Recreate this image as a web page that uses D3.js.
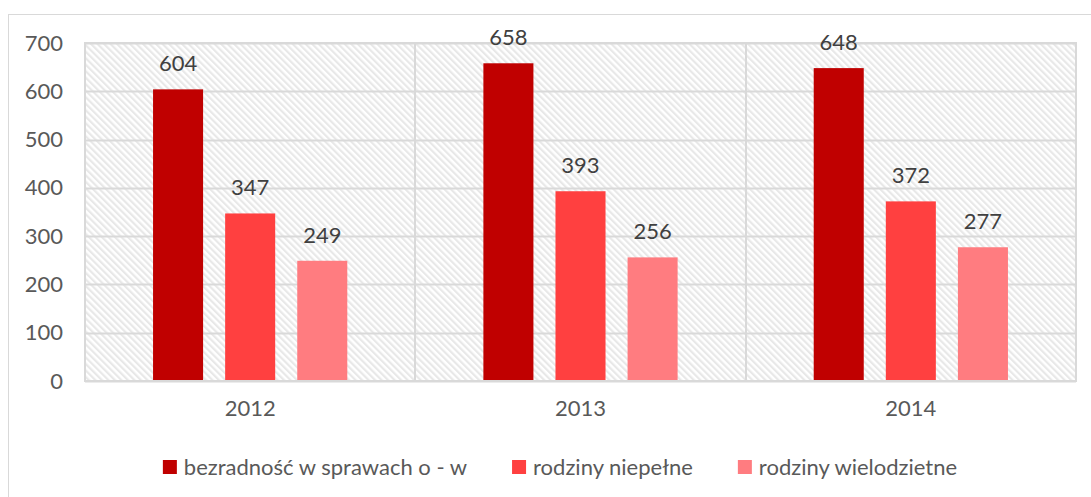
<!DOCTYPE html>
<html>
<head>
<meta charset="utf-8">
<script src="https://cdn.jsdelivr.net/npm/d3@7"></script>
<style>
  body { margin: 0; background: #fff; }
  text { font-family: Lato, "Open Sans", sans-serif; fill: #595959; }
</style>
</head>
<body>
<svg id="chart" width="1091" height="497"></svg>
<script>
const years = ["2012", "2013", "2014"];
const series = ["bezradność w sprawach o - w", "rodziny niepełne", "rodziny wielodzietne"];
const bezradnosc = [604, 658, 648];
const niepelne = [347, 393, 372];
const wielodzietne = [249, 256, 277];
const yTicks = [0, 100, 200, 300, 400, 500, 600, 700];
const colors = ["#c00000", "#ff4040", "#ff7c80"];

const values = [bezradnosc, niepelne, wielodzietne];
const svg = d3.select("#chart");
const FONT = "Lato, 'Open Sans', sans-serif";
const FS = "22px";

const plot = { left: 85, right: 1076, top: 43, bottom: 381 };

// hatched background
const defs = svg.append("defs");
defs.append("pattern")
  .attr("id", "hatch")
  .attr("patternUnits", "userSpaceOnUse")
  .attr("width", 4.6).attr("height", 4.6)
  .attr("patternTransform", "rotate(-45)")
  .append("rect")
  .attr("x", 0).attr("y", 0).attr("width", 2.2).attr("height", 4.6)
  .attr("fill", "#e8e8e8");

// outer chart border
svg.append("rect")
  .attr("x", 8.5).attr("y", 14.5)
  .attr("width", 1100).attr("height", 500)
  .attr("fill", "none").attr("stroke", "#d9d9d9");

svg.append("rect")
  .attr("x", plot.left).attr("y", plot.top)
  .attr("width", plot.right - plot.left).attr("height", plot.bottom - plot.top)
  .attr("fill", "url(#hatch)");

const x0 = d3.scaleBand().domain(years).range([plot.left, plot.right]).padding(0);
const bw = x0.bandwidth();
const x1 = d3.scaleBand().domain(series)
  .range([bw * 0.206, bw * 0.794]).paddingInner(0.306);
const y = d3.scaleLinear().domain([0, 700]).range([plot.bottom, plot.top]);

// gridlines
svg.append("g").selectAll("line").data(yTicks).join("line")
  .attr("x1", plot.left).attr("x2", plot.right)
  .attr("y1", d => Math.round(y(d)) + 0.5).attr("y2", d => Math.round(y(d)) + 0.5)
  .attr("stroke", "#d9d9d9").attr("stroke-width", 2);

// category separators
svg.append("g").selectAll("line").data(years.concat(["end"])).join("line")
  .attr("x1", (d, i) => i < years.length ? Math.round(x0(d)) : plot.right)
  .attr("x2", (d, i) => i < years.length ? Math.round(x0(d)) : plot.right)
  .attr("y1", plot.top).attr("y2", plot.bottom)
  .attr("stroke", "#d9d9d9").attr("stroke-width", 2);

// y tick labels
const yAxis = svg.append("g")
  .attr("transform", `translate(${plot.left},0)`)
  .call(d3.axisLeft(y).tickValues(yTicks).tickSize(0).tickPadding(22));
yAxis.select(".domain").remove();
yAxis.selectAll("text")
  .style("font-family", FONT)
  .style("font-size", FS).attr("fill", "#595959");

// x labels
const xAxis = svg.append("g")
  .attr("transform", `translate(0,${plot.bottom})`)
  .call(d3.axisBottom(x0).tickSize(0).tickPadding(19));
xAxis.select(".domain").remove();
xAxis.selectAll("text")
  .style("font-family", FONT)
  .style("font-size", FS).attr("fill", "#595959");

// bars
const groups = svg.append("g").selectAll("g").data(years).join("g")
  .attr("transform", d => `translate(${x0(d)},0)`);

groups.each(function (yr, yi) {
  const g = d3.select(this);
  series.forEach((s, si) => {
    const v = values[si][yi];
    g.append("rect")
      .attr("x", x1(s)).attr("y", y(v))
      .attr("width", x1.bandwidth()).attr("height", y(0) - y(v))
      .attr("fill", colors[si]);
  });
});

// plot border
svg.append("rect")
  .attr("x", plot.left).attr("y", plot.top)
  .attr("width", plot.right - plot.left).attr("height", plot.bottom - plot.top)
  .attr("fill", "none").attr("stroke", "#d9d9d9").attr("stroke-width", 2);

// data labels, drawn above the border
const labels = svg.append("g").selectAll("g").data(years).join("g")
  .attr("transform", d => `translate(${x0(d)},0)`);

labels.each(function (yr, yi) {
  const g = d3.select(this);
  series.forEach((s, si) => {
    const v = values[si][yi];
    g.append("text")
      .attr("x", x1(s) + x1.bandwidth() / 2)
      .attr("y", y(v) - 18)
      .attr("text-anchor", "middle")
      .style("font-size", FS)
      .style("fill", "#404040")
      .text(v);
  });
});

// legend
const legend = svg.append("g");
let lx = 0;
series.forEach((s, i) => {
  const item = legend.append("g").attr("transform", `translate(${lx},0)`);
  item.append("rect").attr("x", 0).attr("y", -7).attr("width", 14).attr("height", 14)
    .attr("fill", colors[i]);
  const t = item.append("text").attr("x", 21).attr("y", 0).attr("dy", "0.35em")
    .style("font-size", FS).text(s);
  lx += 21 + t.node().getComputedTextLength() + 45;
});
const legendWidth = lx - 45;
legend.attr("transform", `translate(${560 - legendWidth / 2},467)`);
</script>
</body>
</html>
